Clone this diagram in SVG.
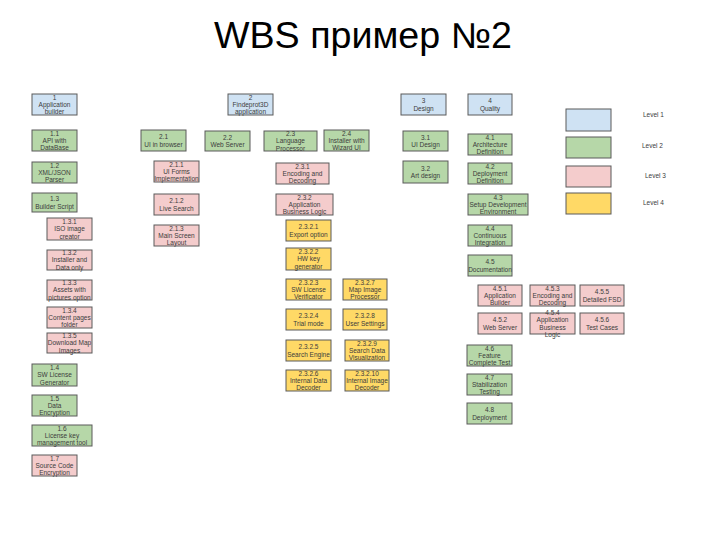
<svg xmlns="http://www.w3.org/2000/svg" width="728" height="546" viewBox="0 0 728 546">
<style>
.bg{fill:#ffffff}
rect.b{stroke:#5a5a5a;stroke-width:1}
.l1{fill:#cfe2f3}
.l2{fill:#b6d7a8}
.l3{fill:#f4cccc}
.l4{fill:#ffd966}
.t{font-family:"Liberation Sans",Arial,sans-serif;font-size:6.5px;fill:#3c3c3c;text-anchor:middle}
.lg{font-family:"Liberation Sans",Arial,sans-serif;font-size:6.5px;fill:#3c3c3c}
.title{font-family:"Liberation Sans",Arial,sans-serif;font-size:36px;fill:#000;text-anchor:middle}
</style>
<rect class="bg" x="0" y="0" width="728" height="546"/>
<text class="title" x="363" y="48" textLength="298" lengthAdjust="spacingAndGlyphs">WBS пример №2</text>
<g id="connectors"></g>

<!-- Level 1 -->
<g id="n1"><rect class="b l1" x="32" y="94" width="45" height="21"/><text class="t" x="54.5" y="99.5"><tspan x="54.5">1</tspan><tspan x="54.5" dy="7.3">Application</tspan><tspan x="54.5" dy="7.3">builder</tspan></text></g>
<g id="n2"><rect class="b l1" x="228" y="94" width="45" height="21"/><text class="t" x="250.5" y="99.5"><tspan x="250.5">2</tspan><tspan x="250.5" dy="7.3">Findeprot3D</tspan><tspan x="250.5" dy="7.3">application</tspan></text></g>
<g id="n3"><rect class="b l1" x="401" y="94" width="45" height="21"/><text class="t" x="423.5" y="103.2"><tspan x="423.5">3</tspan><tspan x="423.5" dy="7.3">Design</tspan></text></g>
<g id="n4"><rect class="b l1" x="468" y="94" width="44" height="21"/><text class="t" x="490" y="103.2"><tspan x="490">4</tspan><tspan x="490" dy="7.3">Quality</tspan></text></g>

<!-- Level 2 -->
<g id="n1-1"><rect class="b l2" x="32" y="130" width="45" height="21"/><text class="t" y="135.5"><tspan x="54.5">1.1</tspan><tspan x="54.5" dy="7.3">API with</tspan><tspan x="54.5" dy="7.3">DataBase</tspan></text></g>
<g id="n1-2"><rect class="b l2" x="32" y="162" width="45" height="21"/><text class="t" y="167.5"><tspan x="54.5">1.2</tspan><tspan x="54.5" dy="7.3">XML/JSON</tspan><tspan x="54.5" dy="7.3">Parser</tspan></text></g>
<g id="n1-3"><rect class="b l2" x="32" y="193" width="45" height="19"/><text class="t" y="201.2"><tspan x="54.5">1.3</tspan><tspan x="54.5" dy="7.3">Builder Script</tspan></text></g>
<g id="n1-4"><rect class="b l2" x="32" y="364" width="45" height="22"/><text class="t" y="370"><tspan x="54.5">1.4</tspan><tspan x="54.5" dy="7.3">SW License</tspan><tspan x="54.5" dy="7.3">Generator</tspan></text></g>
<g id="n1-5"><rect class="b l2" x="32" y="395" width="45" height="21"/><text class="t" y="400.5"><tspan x="54.5">1.5</tspan><tspan x="54.5" dy="7.3">Data</tspan><tspan x="54.5" dy="7.3">Encryption</tspan></text></g>
<g id="n1-6"><rect class="b l2" x="32" y="425" width="60" height="21"/><text class="t" y="430.5"><tspan x="62">1.6</tspan><tspan x="62" dy="7.3">License key</tspan><tspan x="62" dy="7.3">management tool</tspan></text></g>
<g id="n2-1"><rect class="b l2" x="141" y="130" width="45" height="21"/><text class="t" y="139.2"><tspan x="163.5">2.1</tspan><tspan x="163.5" dy="7.3">UI in browser</tspan></text></g>
<g id="n2-2"><rect class="b l2" x="205" y="131" width="45" height="20"/><text class="t" y="139.7"><tspan x="227.5">2.2</tspan><tspan x="227.5" dy="7.3">Web Server</tspan></text></g>
<g id="n2-3"><rect class="b l2" x="264" y="131" width="53" height="20"/><text class="t" y="136"><tspan x="290.5">2.3</tspan><tspan x="290.5" dy="7.3">Language</tspan><tspan x="290.5" dy="7.3">Processor</tspan></text></g>
<g id="n2-4"><rect class="b l2" x="324" y="130" width="45" height="21"/><text class="t" y="135.5"><tspan x="346.5">2.4</tspan><tspan x="346.5" dy="7.3">Installer with</tspan><tspan x="346.5" dy="7.3">Wizard UI</tspan></text></g>
<g id="n3-1"><rect class="b l2" x="403" y="131" width="45" height="20"/><text class="t" y="139.7"><tspan x="425.5">3.1</tspan><tspan x="425.5" dy="7.3">UI Design</tspan></text></g>
<g id="n3-2"><rect class="b l2" x="403" y="161" width="45" height="22"/><text class="t" y="170.7"><tspan x="425.5">3.2</tspan><tspan x="425.5" dy="7.3">Art design</tspan></text></g>
<g id="n4-1"><rect class="b l2" x="468" y="134" width="44" height="21"/><text class="t" y="139.5"><tspan x="490">4.1</tspan><tspan x="490" dy="7.3">Architecture</tspan><tspan x="490" dy="7.3">Definition</tspan></text></g>
<g id="n4-2"><rect class="b l2" x="468" y="163" width="44" height="21"/><text class="t" y="168.5"><tspan x="490">4.2</tspan><tspan x="490" dy="7.3">Deployment</tspan><tspan x="490" dy="7.3">Definition</tspan></text></g>
<g id="n4-3"><rect class="b l2" x="468" y="194" width="60" height="21"/><text class="t" y="199.5"><tspan x="498">4.3</tspan><tspan x="498" dy="7.3">Setup Development</tspan><tspan x="498" dy="7.3">Environment</tspan></text></g>
<g id="n4-4"><rect class="b l2" x="468" y="225" width="44" height="21"/><text class="t" y="230.5"><tspan x="490">4.4</tspan><tspan x="490" dy="7.3">Continuous</tspan><tspan x="490" dy="7.3">Integration</tspan></text></g>
<g id="n4-5"><rect class="b l2" x="468" y="255" width="44" height="21"/><text class="t" y="264.2"><tspan x="490">4.5</tspan><tspan x="490" dy="7.3">Documentation</tspan></text></g>
<g id="n4-6"><rect class="b l2" x="467" y="345" width="45" height="21"/><text class="t" y="350.5"><tspan x="489.5">4.6</tspan><tspan x="489.5" dy="7.3">Feature</tspan><tspan x="489.5" dy="7.3">Complete Test</tspan></text></g>
<g id="n4-7"><rect class="b l2" x="467" y="374" width="45" height="21"/><text class="t" y="379.5"><tspan x="489.5">4.7</tspan><tspan x="489.5" dy="7.3">Stabilization</tspan><tspan x="489.5" dy="7.3">Testing</tspan></text></g>
<g id="n4-8"><rect class="b l2" x="467" y="403" width="45" height="21"/><text class="t" y="412.2"><tspan x="489.5">4.8</tspan><tspan x="489.5" dy="7.3">Deployment</tspan></text></g>

<!-- Level 3 -->
<g id="n1-3-1"><rect class="b l3" x="47" y="218" width="45" height="22"/><text class="t" y="224"><tspan x="69.5">1.3.1</tspan><tspan x="69.5" dy="7.3">ISO image</tspan><tspan x="69.5" dy="7.3">creator</tspan></text></g>
<g id="n1-3-2"><rect class="b l3" x="47" y="250" width="45" height="20"/><text class="t" y="255"><tspan x="69.5">1.3.2</tspan><tspan x="69.5" dy="7.3">Installer and</tspan><tspan x="69.5" dy="7.3">Data only</tspan></text></g>
<g id="n1-3-3"><rect class="b l3" x="47" y="280" width="45" height="20"/><text class="t" y="285"><tspan x="69.5">1.3.3</tspan><tspan x="69.5" dy="7.3">Assets with</tspan><tspan x="69.5" dy="7.3">pictures option</tspan></text></g>
<g id="n1-3-4"><rect class="b l3" x="47" y="307" width="45" height="21"/><text class="t" y="312.5"><tspan x="69.5">1.3.4</tspan><tspan x="69.5" dy="7.3">Content pages</tspan><tspan x="69.5" dy="7.3">folder</tspan></text></g>
<g id="n1-3-5"><rect class="b l3" x="47" y="333" width="45" height="20"/><text class="t" y="338"><tspan x="69.5">1.3.5</tspan><tspan x="69.5" dy="7.3">Download Map</tspan><tspan x="69.5" dy="7.3">Images</tspan></text></g>
<g id="n1-7"><rect class="b l3" x="32" y="455" width="45" height="21"/><text class="t" y="460.5"><tspan x="54.5">1.7</tspan><tspan x="54.5" dy="7.3">Source Code</tspan><tspan x="54.5" dy="7.3">Encryption</tspan></text></g>
<g id="n2-1-1"><rect class="b l3" x="154" y="161" width="45" height="21"/><text class="t" y="166.5"><tspan x="176.5">2.1.1</tspan><tspan x="176.5" dy="7.3">UI Forms</tspan><tspan x="176.5" dy="7.3">Implementation</tspan></text></g>
<g id="n2-1-2"><rect class="b l3" x="154" y="194" width="45" height="21"/><text class="t" y="203.2"><tspan x="176.5">2.1.2</tspan><tspan x="176.5" dy="7.3">Live Search</tspan></text></g>
<g id="n2-1-3"><rect class="b l3" x="154" y="225" width="45" height="21"/><text class="t" y="230.5"><tspan x="176.5">2.1.3</tspan><tspan x="176.5" dy="7.3">Main Screen</tspan><tspan x="176.5" dy="7.3">Layout</tspan></text></g>
<g id="n2-3-1"><rect class="b l3" x="276" y="163" width="53" height="21"/><text class="t" y="168.5"><tspan x="302.5">2.3.1</tspan><tspan x="302.5" dy="7.3">Encoding and</tspan><tspan x="302.5" dy="7.3">Decoding</tspan></text></g>
<g id="n2-3-2"><rect class="b l3" x="276" y="194" width="57" height="21"/><text class="t" y="199.5"><tspan x="304.5">2.3.2</tspan><tspan x="304.5" dy="7.3">Application</tspan><tspan x="304.5" dy="7.3">Business Logic</tspan></text></g>
<g id="n4-5-1"><rect class="b l3" x="478" y="285" width="44" height="21"/><text class="t" y="290.5"><tspan x="500">4.5.1</tspan><tspan x="500" dy="7.3">Application</tspan><tspan x="500" dy="7.3">Builder</tspan></text></g>
<g id="n4-5-3"><rect class="b l3" x="530" y="285" width="45" height="21"/><text class="t" y="290.5"><tspan x="552.5">4.5.3</tspan><tspan x="552.5" dy="7.3">Encoding and</tspan><tspan x="552.5" dy="7.3">Decoding</tspan></text></g>
<g id="n4-5-5"><rect class="b l3" x="580" y="285" width="44" height="21"/><text class="t" y="294.2"><tspan x="602">4.5.5</tspan><tspan x="602" dy="7.3">Detailed FSD</tspan></text></g>
<g id="n4-5-2"><rect class="b l3" x="478" y="313" width="44" height="21"/><text class="t" y="322.2"><tspan x="500">4.5.2</tspan><tspan x="500" dy="7.3">Web Server</tspan></text></g>
<g id="n4-5-4"><rect class="b l3" x="530" y="313" width="45" height="21"/><text class="t" y="314.9"><tspan x="552.5">4.5.4</tspan><tspan x="552.5" dy="7.3">Application</tspan><tspan x="552.5" dy="7.3">Business</tspan><tspan x="552.5" dy="7.3">Logic</tspan></text></g>
<g id="n4-5-6"><rect class="b l3" x="580" y="313" width="44" height="21"/><text class="t" y="322.2"><tspan x="602">4.5.6</tspan><tspan x="602" dy="7.3">Test Cases</tspan></text></g>

<!-- Level 4 -->
<g id="n2-3-2-1"><rect class="b l4" x="286" y="220" width="45" height="21"/><text class="t" y="229.2"><tspan x="308.5">2.3.2.1</tspan><tspan x="308.5" dy="7.3">Export option</tspan></text></g>
<g id="n2-3-2-2"><rect class="b l4" x="286" y="248" width="45" height="22"/><text class="t" y="254"><tspan x="308.5">2.3.2.2</tspan><tspan x="308.5" dy="7.3">HW key</tspan><tspan x="308.5" dy="7.3">generator</tspan></text></g>
<g id="n2-3-2-3"><rect class="b l4" x="286" y="279" width="45" height="21"/><text class="t" y="284.5"><tspan x="308.5">2.3.2.3</tspan><tspan x="308.5" dy="7.3">SW License</tspan><tspan x="308.5" dy="7.3">Verificator</tspan></text></g>
<g id="n2-3-2-4"><rect class="b l4" x="286" y="309" width="45" height="21"/><text class="t" y="318.2"><tspan x="308.5">2.3.2.4</tspan><tspan x="308.5" dy="7.3">Trial mode</tspan></text></g>
<g id="n2-3-2-5"><rect class="b l4" x="286" y="340" width="45" height="21"/><text class="t" y="349.2"><tspan x="308.5">2.3.2.5</tspan><tspan x="308.5" dy="7.3">Search Engine</tspan></text></g>
<g id="n2-3-2-6"><rect class="b l4" x="286" y="370" width="45" height="21"/><text class="t" y="375.5"><tspan x="308.5">2.3.2.6</tspan><tspan x="308.5" dy="7.3">Internal Data</tspan><tspan x="308.5" dy="7.3">Decoder</tspan></text></g>
<g id="n2-3-2-7"><rect class="b l4" x="343" y="279" width="44" height="21"/><text class="t" y="284.5"><tspan x="365">2.3.2.7</tspan><tspan x="365" dy="7.3">Map Image</tspan><tspan x="365" dy="7.3">Processor</tspan></text></g>
<g id="n2-3-2-8"><rect class="b l4" x="343" y="309" width="44" height="21"/><text class="t" y="318.2"><tspan x="365">2.3.2.8</tspan><tspan x="365" dy="7.3">User Settings</tspan></text></g>
<g id="n2-3-2-9"><rect class="b l4" x="345" y="340" width="44" height="21"/><text class="t" y="345.5"><tspan x="367">2.3.2.9</tspan><tspan x="367" dy="7.3">Search Data</tspan><tspan x="367" dy="7.3">Visualization</tspan></text></g>
<g id="n2-3-2-10"><rect class="b l4" x="345" y="370" width="44" height="21"/><text class="t" y="375.5"><tspan x="367">2.3.2.10</tspan><tspan x="367" dy="7.3">Internal Image</tspan><tspan x="367" dy="7.3">Decoder</tspan></text></g>

<!-- Legend -->
<g id="legend-1"><rect class="b l1" x="566" y="109" width="45" height="22"/><text class="lg" x="643" y="117">Level 1</text></g>
<g id="legend-2"><rect class="b l2" x="566" y="137" width="45" height="21"/><text class="lg" x="642" y="148">Level 2</text></g>
<g id="legend-3"><rect class="b l3" x="566" y="166" width="45" height="21"/><text class="lg" x="645" y="178">Level 3</text></g>
<g id="legend-4"><rect class="b l4" x="566" y="193" width="45" height="21"/><text class="lg" x="643" y="205">Level 4</text></g>
</svg>
